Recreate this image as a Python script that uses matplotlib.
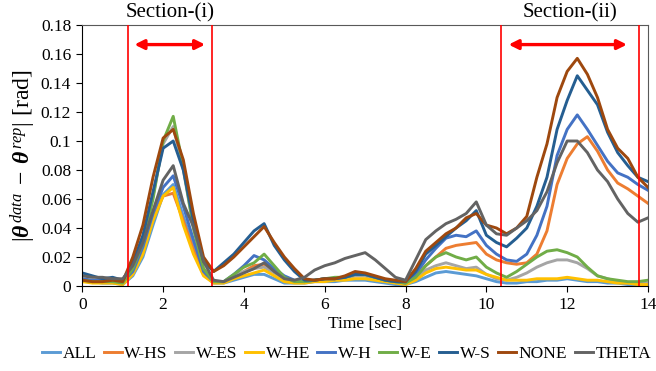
import numpy as np
import matplotlib
matplotlib.use("Agg")
import matplotlib.pyplot as plt

plt.rcParams["font.family"] = ["Liberation Serif", "DejaVu Serif"]
plt.rcParams["mathtext.fontset"] = "custom"
plt.rcParams["mathtext.rm"] = "Liberation Serif"
plt.rcParams["mathtext.it"] = "Liberation Serif:italic"
plt.rcParams["mathtext.bf"] = "Liberation Serif:bold:italic"

# time axis, sampled every 0.25 s
time = np.arange(0, 14.01, 0.25)

ALL = [0.004, 0.003, 0.002, 0.002, 0.001, 0.007, 0.020, 0.042, 0.063, 0.070, 0.048, 0.028, 0.008, 0.002,
       0.002, 0.004, 0.006, 0.008, 0.008, 0.005, 0.002, 0.002, 0.002, 0.003, 0.003, 0.003, 0.004, 0.004,
       0.004, 0.003, 0.002, 0.001, 0.001, 0.003, 0.006, 0.009, 0.010, 0.009, 0.008, 0.007, 0.005, 0.003,
       0.002, 0.002, 0.003, 0.003, 0.004, 0.004, 0.005, 0.004, 0.003, 0.003, 0.002, 0.002, 0.001, 0.001, 0.001]
W_HS = [0.004, 0.003, 0.003, 0.003, 0.002, 0.010, 0.025, 0.048, 0.062, 0.064, 0.045, 0.025, 0.008, 0.003,
        0.003, 0.006, 0.010, 0.014, 0.015, 0.010, 0.005, 0.003, 0.003, 0.004, 0.005, 0.005, 0.006, 0.007,
        0.007, 0.005, 0.004, 0.003, 0.002, 0.006, 0.014, 0.020, 0.026, 0.028, 0.029, 0.030, 0.022, 0.018,
        0.016, 0.015, 0.016, 0.022, 0.038, 0.070, 0.088, 0.098, 0.103, 0.093, 0.080, 0.071, 0.067, 0.062, 0.057]
W_ES = [0.004, 0.003, 0.003, 0.003, 0.002, 0.014, 0.032, 0.062, 0.098, 0.110, 0.080, 0.040, 0.012, 0.003,
        0.003, 0.007, 0.010, 0.012, 0.013, 0.009, 0.005, 0.003, 0.003, 0.004, 0.005, 0.005, 0.006, 0.007,
        0.007, 0.005, 0.004, 0.003, 0.002, 0.005, 0.011, 0.014, 0.016, 0.014, 0.012, 0.013, 0.008, 0.005,
        0.004, 0.006, 0.009, 0.013, 0.016, 0.018, 0.018, 0.016, 0.012, 0.007, 0.005, 0.003, 0.002, 0.002, 0.002]
W_HE = [0.003, 0.002, 0.002, 0.002, 0.001, 0.008, 0.022, 0.045, 0.062, 0.068, 0.042, 0.022, 0.007, 0.002,
        0.002, 0.005, 0.007, 0.009, 0.011, 0.007, 0.003, 0.002, 0.002, 0.003, 0.003, 0.004, 0.004, 0.005,
        0.005, 0.004, 0.003, 0.002, 0.001, 0.004, 0.009, 0.012, 0.013, 0.012, 0.011, 0.011, 0.008, 0.006,
        0.004, 0.004, 0.004, 0.005, 0.005, 0.005, 0.006, 0.005, 0.004, 0.004, 0.003, 0.002, 0.002, 0.001, 0.001]
W_H = [0.005, 0.004, 0.004, 0.004, 0.003, 0.010, 0.027, 0.050, 0.068, 0.076, 0.055, 0.032, 0.010, 0.003,
       0.003, 0.008, 0.014, 0.021, 0.018, 0.012, 0.007, 0.004, 0.003, 0.004, 0.005, 0.005, 0.006, 0.008,
       0.008, 0.006, 0.004, 0.003, 0.002, 0.008, 0.018, 0.026, 0.033, 0.035, 0.034, 0.038, 0.028, 0.022,
       0.018, 0.017, 0.022, 0.035, 0.055, 0.090, 0.108, 0.118, 0.108, 0.097, 0.086, 0.078, 0.075, 0.070, 0.066]
W_E = [0.004, 0.003, 0.003, 0.003, 0.002, 0.012, 0.030, 0.060, 0.100, 0.117, 0.082, 0.040, 0.012, 0.003,
       0.003, 0.008, 0.013, 0.016, 0.022, 0.014, 0.006, 0.003, 0.003, 0.004, 0.005, 0.006, 0.006, 0.008,
       0.008, 0.006, 0.004, 0.003, 0.002, 0.006, 0.014, 0.020, 0.023, 0.020, 0.018, 0.020, 0.013, 0.009,
       0.006, 0.010, 0.015, 0.020, 0.024, 0.025, 0.023, 0.020, 0.013, 0.007, 0.005, 0.004, 0.003, 0.003, 0.004]
W_S = [0.009, 0.007, 0.005, 0.006, 0.004, 0.016, 0.035, 0.065, 0.095, 0.100, 0.080, 0.045, 0.017, 0.010,
       0.016, 0.022, 0.030, 0.038, 0.043, 0.028, 0.018, 0.010, 0.004, 0.004, 0.005, 0.005, 0.006, 0.008,
       0.008, 0.006, 0.004, 0.003, 0.003, 0.010, 0.022, 0.028, 0.034, 0.040, 0.045, 0.052, 0.035, 0.030,
       0.027, 0.033, 0.040, 0.055, 0.075, 0.108, 0.128, 0.145, 0.135, 0.125, 0.106, 0.092, 0.083, 0.075, 0.072]
NONE = [0.004, 0.003, 0.003, 0.004, 0.003, 0.020, 0.042, 0.075, 0.102, 0.108, 0.087, 0.050, 0.020, 0.010,
        0.014, 0.020, 0.027, 0.034, 0.041, 0.030, 0.020, 0.012, 0.005, 0.004, 0.005, 0.005, 0.007, 0.010,
        0.009, 0.007, 0.005, 0.004, 0.003, 0.012, 0.024, 0.030, 0.036, 0.040, 0.047, 0.050, 0.042, 0.040,
        0.036, 0.040, 0.048, 0.075, 0.098, 0.130, 0.148, 0.157, 0.146, 0.130, 0.108, 0.095, 0.088, 0.075, 0.068]
THETA = [0.007, 0.006, 0.006, 0.005, 0.005, 0.014, 0.030, 0.052, 0.073, 0.083, 0.057, 0.041, 0.017, 0.004,
         0.003, 0.006, 0.009, 0.012, 0.016, 0.010, 0.005, 0.004, 0.006, 0.011, 0.014, 0.016, 0.019, 0.021,
         0.023, 0.018, 0.012, 0.006, 0.004, 0.018, 0.032, 0.038, 0.043, 0.046, 0.050, 0.058, 0.042, 0.036,
         0.035, 0.040, 0.045, 0.052, 0.065, 0.085, 0.100, 0.100, 0.092, 0.080, 0.072, 0.060, 0.050, 0.044, 0.047]

labels = ["ALL", "W-HS", "W-ES", "W-HE", "W-H", "W-E", "W-S", "NONE", "THETA"]
series = [ALL, W_HS, W_ES, W_HE, W_H, W_E, W_S, NONE, THETA]
colors = ["#5B9BD5", "#ED7D31", "#A5A5A5", "#FFC000", "#4472C4",
          "#70AD47", "#255E91", "#9E480E", "#636363"]

# section boundaries [sec]
sections = [(1.12, 3.22), (10.35, 13.77)]
arrows = [(1.29, 3.04), (10.55, 13.48)]
section_names = ["Section-(i)", "Section-(ii)"]

fig = plt.figure(figsize=(6.56, 3.71), dpi=100)
ax = fig.add_axes([82.3 / 656, 1 - 286 / 371, (648 - 82.3) / 656, (286 - 25) / 371])

for y, c, lab in zip(series, colors, labels):
    ax.plot(time, y, color=c, lw=2.1, label=lab, solid_joinstyle="round")

for (a, b), (p, q), name in zip(sections, arrows, section_names):
    ax.axvline(a, color="red", lw=1.2, zorder=5)
    ax.axvline(b, color="red", lw=1.2, zorder=5)
    ax.annotate("", xy=(q, 0.1665), xytext=(p, 0.1665),
                arrowprops=dict(arrowstyle="<|-|>", color="red", lw=2.4,
                                mutation_scale=14, shrinkA=0, shrinkB=0))
    ax.text((a + b) / 2, 0.1885, name, ha="center", va="center",
            fontsize=15, clip_on=False)

ax.set_xlim(0, 14)
ax.set_ylim(0, 0.18)
ax.set_xticks(np.arange(0, 15, 2))
ax.set_yticks(np.arange(0, 0.181, 0.02))
ax.set_yticklabels(["0", "0.02", "0.04", "0.06", "0.08", "0.1",
                    "0.12", "0.14", "0.16", "0.18"])
ax.tick_params(labelsize=12.5, direction="out", length=4, width=0.8, pad=4)
for s in ["top", "right"]:
    ax.spines[s].set_color("#595959")
    ax.spines[s].set_linewidth(0.8)
for s in ["left", "bottom"]:
    ax.spines[s].set_color("black")
    ax.spines[s].set_linewidth(0.8)

ax.set_xlabel("Time [sec]", fontsize=12.5, labelpad=2)
ax.set_ylabel(r"$|\mathbf{\theta}^{\,data}\;-\;\mathbf{\theta}^{\,rep}|$ [rad]",
              fontsize=17, labelpad=2)

fig.legend(loc="center", bbox_to_anchor=(0.528, 0.045), ncol=9, frameon=False,
           fontsize=12.5, handlelength=1.05, handletextpad=0.15,
           columnspacing=0.42, borderpad=0)

fig.savefig("out.png", dpi=100)
